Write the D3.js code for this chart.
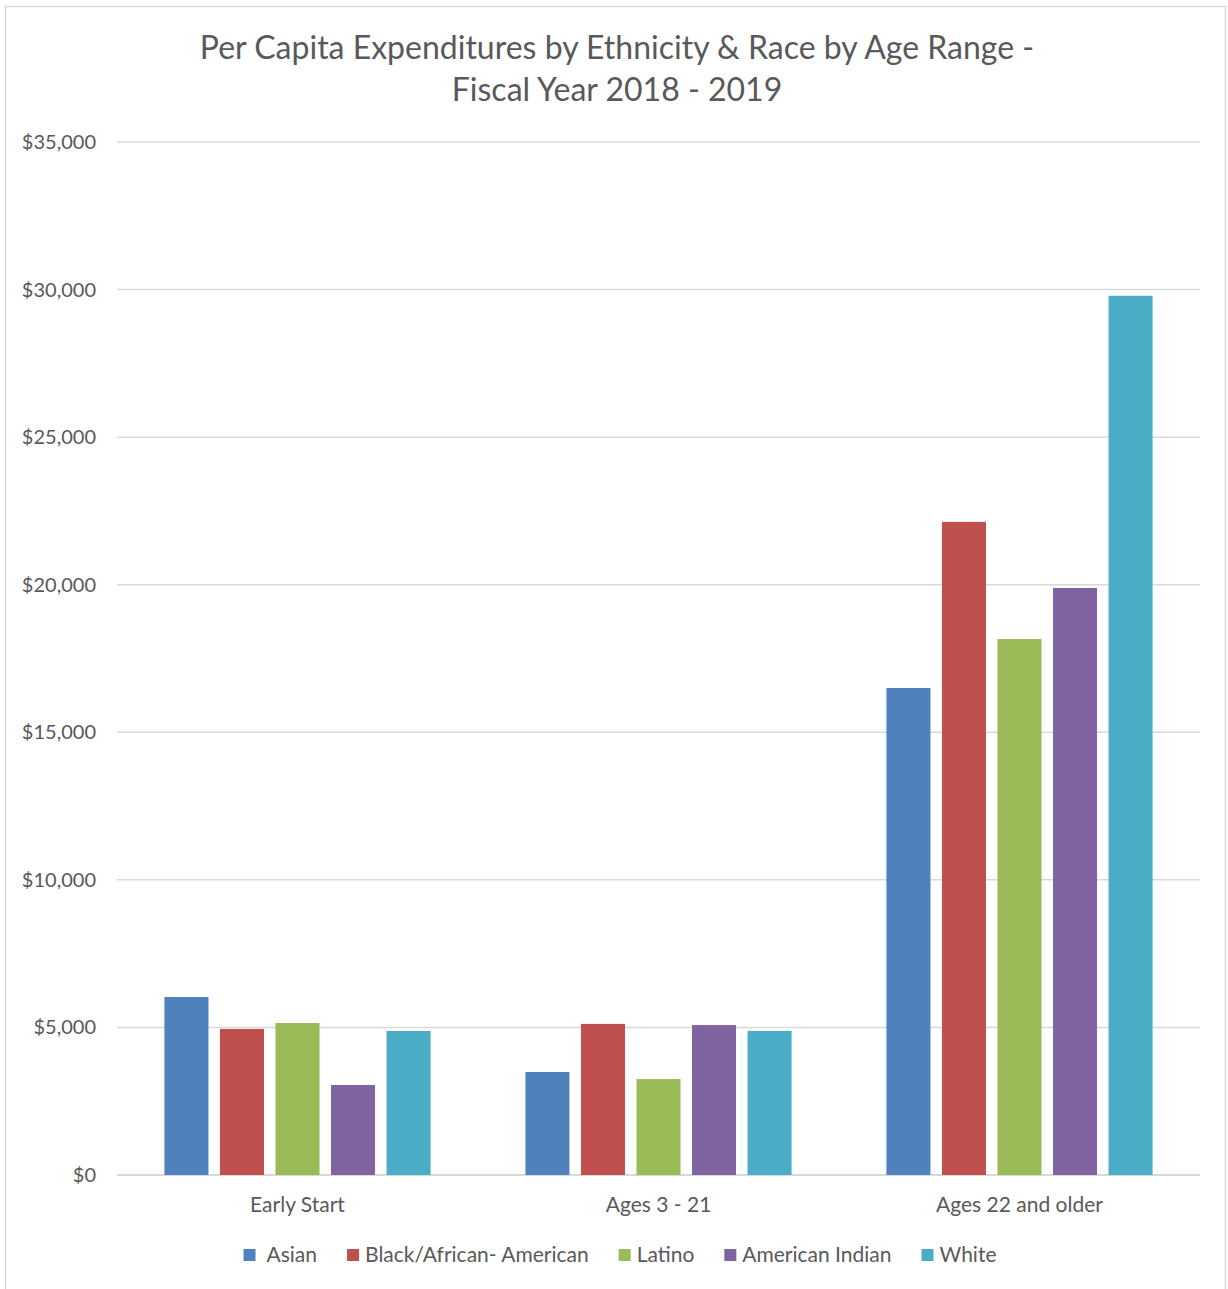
<!DOCTYPE html>
<html>
<head>
<meta charset="utf-8">
<script src="https://cdnjs.cloudflare.com/ajax/libs/d3/7.8.5/d3.min.js"></script>
<style>
  body { margin: 0; background: #fff; }
  text { font-family: Lato, "Open Sans", sans-serif; fill: #595959; }
</style>
</head>
<body>
<svg id="chart" width="1228" height="1289"></svg>
<script>
// data
var categories = ["Early Start", "Ages 3 - 21", "Ages 22 and older"];
var series = ["Asian", "Black/African- American", "Latino", "American Indian", "White"];
var colors = ["#4f81bd", "#c0504d", "#9bbb59", "#8064a2", "#4bacc6"];
var asian    = [6030, 3490, 16500];
var black    = [4950, 5120, 22130];
var latino   = [5150, 3250, 18160];
var amIndian = [3050, 5080, 19890];
var white    = [4880, 4880, 29790];
var yTicks = [0, 5000, 10000, 15000, 20000, 25000, 30000, 35000];

var values = [asian, black, latino, amIndian, white];

var svg = d3.select("#chart");

// outer chart border
svg.append("rect")
  .attr("x", 5.5).attr("y", 6.5)
  .attr("width", 1220).attr("height", 1300)
  .attr("fill", "none")
  .attr("stroke", "#d9d9d9")
  .attr("stroke-width", 1.5);

var margin = {top: 142, left: 117, right: 28, bottom: 114},
    width = 1228 - margin.left - margin.right,
    height = 1289 - margin.top - margin.bottom;

var g = svg.append("g")
  .attr("transform", "translate(" + margin.left + "," + margin.top + ")");

var y = d3.scaleLinear().domain([0, 35000]).range([height, 0]);
var x0 = d3.scaleBand().domain(categories).range([0, width]).paddingInner(0).paddingOuter(0);
var x1 = d3.scaleBand().domain(series).range([0, x0.bandwidth()])
  .paddingInner(0.207).paddingOuter(0.854);

// gridlines
g.selectAll("line.grid")
  .data(yTicks)
  .enter().append("line")
  .attr("class", "grid")
  .attr("x1", 0).attr("x2", width)
  .attr("y1", function(d){ return y(d); })
  .attr("y2", function(d){ return y(d); })
  .attr("stroke", "#d9d9d9")
  .attr("stroke-width", function(d){ return d == 0 ? 2 : 1.5; });

// y labels
g.selectAll("text.ylab")
  .data(yTicks)
  .enter().append("text")
  .attr("class", "ylab")
  .attr("x", -21)
  .attr("y", function(d){ return y(d); })
  .attr("dy", "0.35em")
  .attr("text-anchor", "end")
  .style("font-size", "20px")
  .text(function(d){ return "$" + d3.format(",")(d); });

// bars
var groups = g.selectAll("g.cat")
  .data(categories)
  .enter().append("g")
  .attr("class", "cat")
  .attr("transform", function(d){ return "translate(" + x0(d) + ",0)"; });

groups.selectAll("rect")
  .data(function(d, ci){
    return series.map(function(s, si){ return {s: s, i: si, v: values[si][ci]}; });
  })
  .enter().append("rect")
  .attr("x", function(d){ return x1(d.s); })
  .attr("width", x1.bandwidth())
  .attr("y", function(d){ return y(d.v); })
  .attr("height", function(d){ return y(0) - y(d.v); })
  .attr("fill", function(d){ return colors[d.i]; });

// category labels
g.selectAll("text.xlab")
  .data(categories)
  .enter().append("text")
  .attr("class", "xlab")
  .attr("x", function(d){ return x0(d) + x0.bandwidth() / 2; })
  .attr("y", height + 37)
  .attr("text-anchor", "middle")
  .style("font-size", "21px")
  .text(function(d){ return d; });

// title
var title = svg.append("text")
  .attr("x", 617)
  .attr("text-anchor", "middle")
  .style("font-size", "32px");
title.append("tspan").attr("x", 617).attr("y", 59).text("Per Capita Expenditures by Ethnicity & Race by Age Range -");
title.append("tspan").attr("x", 617).attr("y", 101).text("Fiscal Year 2018 - 2019");

// legend
var legend = svg.append("g");
var items = legend.selectAll("g")
  .data(series)
  .enter().append("g");
items.append("rect")
  .attr("width", 12).attr("height", 12)
  .attr("y", 1249)
  .attr("fill", function(d, i){ return colors[i]; });
items.append("text")
  .attr("x", function(d, i){ return i == 0 ? 23 : 18; })
  .attr("y", 1262)
  .style("font-size", "21px")
  .text(function(d){ return d; });

var pos = 0, offsets = [];
items.each(function(d, i){
  var w = d3.select(this).select("text").node().getComputedTextLength();
  offsets.push(pos);
  pos += (i == 0 ? 23 : 18) + w + 30;
});
var total = pos - 30;
var start = 620 - total / 2;
items.attr("transform", function(d, i){ return "translate(" + (start + offsets[i]) + ",0)"; });
</script>
</body>
</html>
